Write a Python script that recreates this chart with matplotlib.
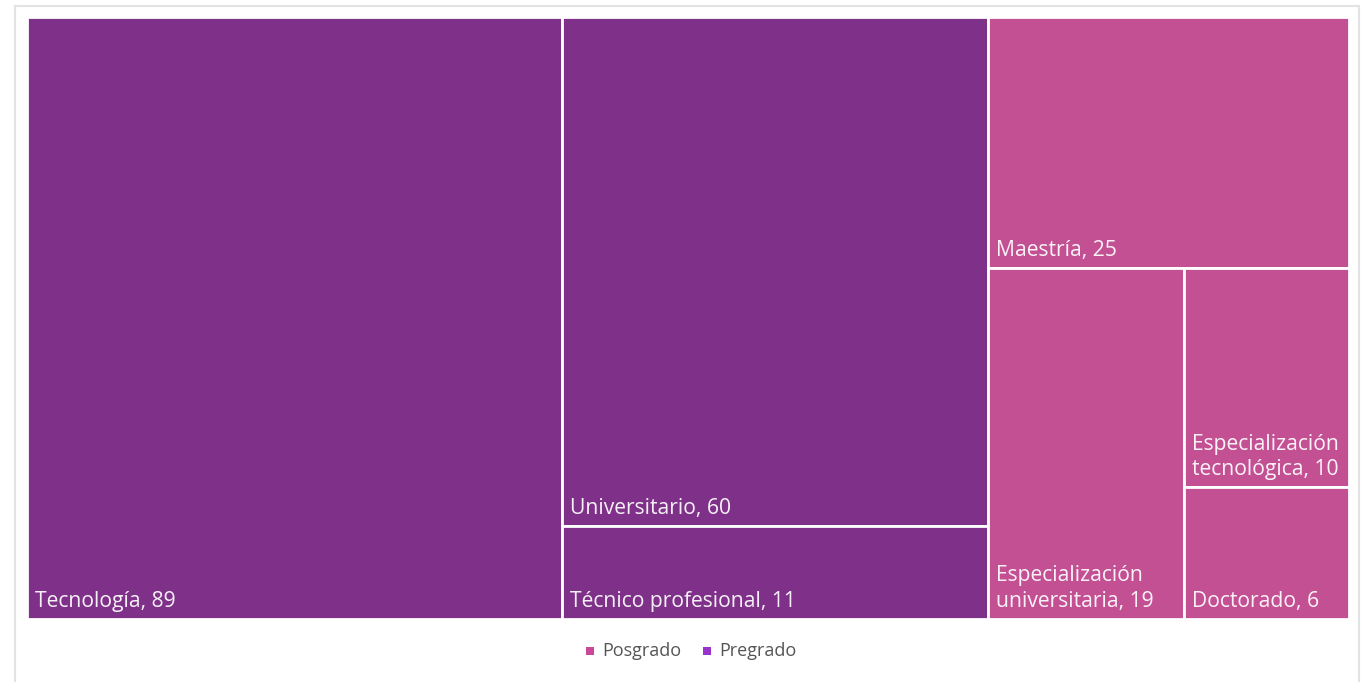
import matplotlib.pyplot as plt
from matplotlib.patches import Rectangle

groups = ['Pregrado', 'Posgrado']
group_colors = {'Pregrado': '#7f3189', 'Posgrado': '#c45094'}
legend_colors = {'Posgrado': '#c9489b', 'Pregrado': '#9a32cc'}

pregrado_labels = ['Tecnología', 'Universitario', 'Técnico profesional']
pregrado_values = [89, 60, 11]
posgrado_labels = ['Maestría', 'Especialización\nuniversitaria', 'Especialización\ntecnológica', 'Doctorado']
posgrado_values = [25, 19, 10, 6]

font_name = 'Open Sans'


def slice_layout(values, x, y, w, h):
    # split off first item along the longer side, recurse on the rest
    rects = []
    remaining = list(values)
    while remaining:
        total = sum(remaining)
        v = remaining.pop(0)
        if not remaining:
            rects.append((x, y, w, h))
            break
        frac = v / total
        if w >= h:
            rects.append((x, y, w * frac, h))
            x, w = x + w * frac, w * (1 - frac)
        else:
            rects.append((x, y, w, h * frac))
            y, h = y + h * frac, h * (1 - frac)
    return rects


W, H = 1362, 682
fig = plt.figure(figsize=(W / 100, H / 100), dpi=100)
ax = fig.add_axes([0, 0, 1, 1])
ax.set_xlim(0, W)
ax.set_ylim(H, 0)
ax.axis('off')

# outer card frame
ax.add_patch(Rectangle((15, 6), 1344, 690, facecolor='white', edgecolor='#e3e3e3', linewidth=1.5))

area = (27, 17, 1322, 602)
totals = [sum(pregrado_values), sum(posgrado_values)]
group_rects = slice_layout(totals, *area)

for g, grect, labels, values in zip(groups, group_rects,
                                    [pregrado_labels, posgrado_labels],
                                    [pregrado_values, posgrado_values]):
    for (x, y, w, h), lab, val in zip(slice_layout(values, *grect), labels, values):
        ax.add_patch(Rectangle((x, y), w, h, facecolor=group_colors[g], edgecolor='white', linewidth=2))
        ax.text(x + 8, y + h - 7, f'{lab}, {val}', color='white', fontsize=15.2, family=font_name,
                ha='left', va='bottom', linespacing=1.3, alpha=0.93)

# legend
lx = 590
for g in ['Posgrado', 'Pregrado']:
    ax.add_patch(Rectangle((lx - 4, 647), 8, 8, facecolor=legend_colors[g], edgecolor='none'))
    t = ax.text(lx + 12, 651, g, color='#555555', fontsize=13, family=font_name, ha='left', va='center')
    lx += 117

fig.savefig('out.png', dpi=100)
